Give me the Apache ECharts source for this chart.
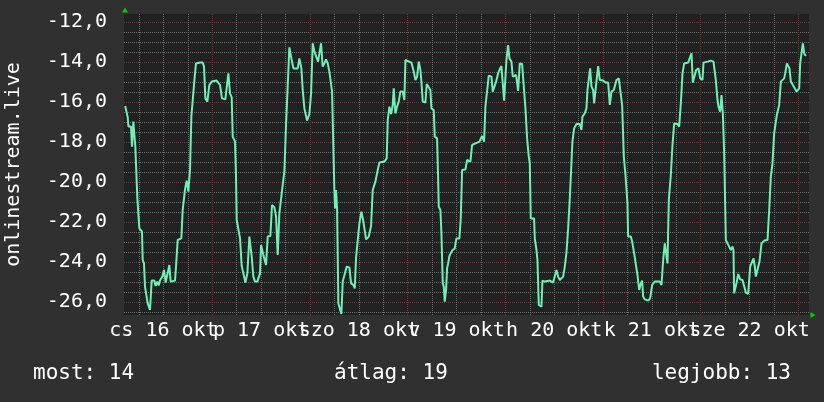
<!DOCTYPE html>
<html><head><meta charset="utf-8">
<script src="https://cdn.jsdelivr.net/npm/echarts@6/dist/echarts.min.js"></script>
<style>html,body{margin:0;padding:0;background:#303030;}#c{width:824px;height:402px;}</style>
</head><body><div id="c"></div>
<script>
// hours since 16 Oct 00:00
const hours = [2.6,2.95,3.2,3.4,4.02,4.27,4.43,4.59,4.92,5.08,5.41,5.58,5.82,6.07,6.72,6.89,7.21,7.46,7.71,8.12,8.69,8.85,9.10,9.75,10.08,10.49,10.82,11.15,11.72,12.13,12.54,12.95,13.44,13.77,14.26,14.83,15.08,15.49,15.90,16.39,16.72,17.29,17.70,18.11,18.52,18.85,19.34,19.67,19.99,20.98,21.63,21.96,22.29,22.78,23.27,23.84,25.07,25.89,26.38,27.20,27.53,27.94,28.35,28.76,29.01,29.58,29.82,29.99,30.40,30.81,31.22,31.63,32.12,32.61,33.10,33.67,34.08,34.49,35.07,
35.56,35.72,35.97,36.54,37.20,37.61,38.26,38.67,39.25,39.66,40.07,40.47,40.88,41.29,41.70,42.11,42.52,42.93,43.34,43.92,44.98,45.39,45.88,46.21,46.62,47.03,47.27,47.85,48.26,48.67,49.08,49.49,49.98,50.31,50.71,51.12,51.53,51.94,52.35,52.76,53.42,53.75,53.99,54.16,54.40,54.65,54.97,55.38,55.71,56.04,56.53,57.02,57.68,58.09,58.66,58.99,59.32,59.73,60.14,60.63,61.12,61.77,62.43,63.00,63.41,64.07,64.64,65.05,66.28,66.85,67.10,67.51,67.92,68.33,
68.57,68.98,69.39,69.80,70.21,70.78,71.19,71.44,71.85,72.91,73.49,73.90,74.31,74.72,75.13,75.37,75.70,76.36,76.68,77.17,77.58,77.83,78.40,78.65,79.22,79.47,79.63,80.04,80.29,80.62,80.86,81.11,81.43,81.68,81.93,82.25,82.91,83.56,83.97,84.71,85.04,85.37,86.19,86.60,87.41,87.82,88.64,89.63,90.28,90.77,91.10,91.51,91.92,92.58,92.90,93.39,93.72,94.21,94.54,95.03,95.44,95.69,96.02,96.26,96.67,97.00,97.49,97.82,98.31,98.64,99.13,99.54,100.11,100.60,100.93,101.34,101.75,
102.00,102.24,103.06,103.23,103.64,103.88,104.21,104.86,105.11,105.68,106.09,106.91,107.73,108.14,108.55,108.96,109.37,110.19,110.60,111.01,111.42,111.83,112.24,112.48,112.89,113.47,114.29,114.69,114.94,115.51,115.92,116.17,116.50,116.82,117.15,117.56,117.81,118.14,118.38,118.79,119.20,119.61,120.02,120.59,121.25,121.66,122.07,122.64,123.30,123.87,124.36,124.69,125.10,125.51,126.00,126.16,126.82,127.15,127.64,128.05,128.46,128.87,129.28,129.60,129.85,130.26,131.08,131.57,132.06,132.72,133.95,134.36,134.77,135.17,
135.42,135.83,136.16,136.65,137.06,137.47,138.29,138.70,139.11,139.52,139.93,140.91,141.40,141.73,142.06,142.55,142.87,143.45,143.86,144.43,144.68,145.66,146.48,147.13,147.71,148.12,148.36,148.77,149.10,149.43,149.76,150.00,150.17,150.58,150.98,151.39,151.80,152.05,152.21,152.54,152.87,153.20,153.69,154.26,154.67,155.08,155.65,156.15,156.64,156.97,157.29,157.54,157.95,158.44,158.93,159.59,160.41,160.82,161.22,161.63,162.04,162.70,163.27,163.68,164.09,164.50,164.75,165.16,165.48,165.81,166.14,166.63,167.12,167.53,167.78,168.19,168.43,168.76,169.09,169.42,169.83];
const temps = [-16.2,-16.3,-16.75,-17.23,-17.23,-18.23,-18.23,-16.98,-16.98,-18.23,-18.23,-20.82,-20.82,-22.32,-22.48,-23.90,-24.07,-25.23,-25.23,-26.07,-26.40,-26.45,-24.93,-24.93,-25.20,-24.98,-25.17,-24.93,-24.73,-24.40,-25.03,-24.93,-24.15,-24.98,-24.93,-24.93,-24.23,-22.90,-22.82,-22.82,-21.40,-20.37,-19.93,-20.48,-19.37,-16.73,-16.73,-14.73,-14.07,-14.03,-14.03,-14.23,-15.82,-15.98,-15.15,-14.98,-14.93,-15.15,-15.82,-15.87,-15.90,-14.57,-15.57,-15.77,-17.73,-17.98,-19.73,-21.90,-21.98,-22.82,-24.20,-24.57,-25.03,-24.57,-22.73,-23.70,-24.73,-24.98,-24.98,
-24.98,-24.57,-23.15,-23.65,-24.15,-22.73,-22.70,-21.15,-21.27,-21.73,-23.65,-21.57,-21.48,-20.15,-19.48,-17.15,-15.20,-13.27,-13.73,-14.32,-14.32,-13.82,-14.32,-15.40,-16.32,-16.40,-16.93,-16.60,-15.57,-13.07,-13.48,-13.53,-13.98,-13.57,-13.07,-14.23,-14.07,-13.87,-14.07,-14.48,-15.48,-18.40,-20.40,-21.32,-20.40,-21.32,-26.07,-26.15,-26.60,-24.98,-24.98,-24.23,-24.27,-25.07,-25.15,-25.32,-23.77,-22.90,-22.07,-21.48,-21.98,-22.87,-22.73,-22.20,-20.40,-19.98,-19.40,-19.03,-18.98,-18.82,-16.90,-16.23,-16.60,-16.15,
-15.32,-16.57,-16.23,-15.98,-15.48,-15.48,-15.90,-13.90,-13.98,-14.03,-14.48,-14.90,-14.73,-13.98,-14.40,-14.98,-15.98,-16.03,-15.10,-15.15,-15.40,-16.32,-16.40,-17.73,-17.82,-19.73,-21.23,-21.40,-22.57,-25.07,-25.23,-25.98,-25.40,-24.32,-24.07,-23.70,-23.43,-23.32,-22.82,-22.82,-21.82,-19.40,-19.37,-18.90,-18.98,-18.15,-18.07,-17.98,-17.70,-17.98,-16.23,-16.20,-14.68,-14.73,-15.48,-15.40,-14.98,-14.57,-14.40,-14.20,-14.15,-15.93,-15.87,-13.90,-13.15,-13.82,-13.98,-14.73,-14.73,-14.65,-15.45,-14.07,-14.10,-14.15,-16.32,-17.82,-18.73,
-19.07,-21.82,-21.82,-22.82,-23.40,-23.90,-26.15,-26.23,-24.93,-24.98,-24.93,-24.93,-25.03,-24.93,-24.40,-24.73,-24.90,-24.73,-24.23,-23.53,-22.32,-20.82,-20.73,-17.98,-17.32,-17.10,-17.10,-17.40,-16.73,-16.57,-16.32,-15.40,-15.32,-14.32,-15.23,-15.40,-16.07,-15.98,-14.98,-14.20,-14.90,-14.98,-14.93,-15.03,-15.03,-16.15,-15.48,-15.40,-14.90,-14.82,-14.73,-16.15,-18.73,-19.65,-21.07,-22.73,-22.73,-22.98,-23.57,-23.65,-24.65,-25.40,-25.07,-24.93,-25.73,-25.87,-25.93,-25.82,-25.15,-24.98,-24.98,-25.15,-23.90,-23.07,
-23.07,-24.07,-20.90,-19.65,-18.15,-17.07,-17.10,-17.23,-16.07,-14.57,-14.07,-14.03,-14.02,-13.57,-15.03,-15.03,-14.40,-14.32,-14.82,-14.90,-14.03,-13.98,-13.93,-13.98,-14.90,-15.90,-16.23,-16.48,-15.65,-16.57,-18.57,-18.57,-22.90,-23.07,-23.15,-23.40,-23.23,-23.40,-25.57,-25.57,-24.98,-24.60,-24.87,-24.90,-24.93,-25.53,-25.60,-24.23,-24.15,-23.82,-24.23,-24.73,-24.65,-23.98,-23.07,-22.93,-22.90,-21.40,-19.73,-19.07,-17.57,-16.65,-16.15,-14.98,-14.90,-14.82,-14.57,-14.07,-14.03,-14.32,-14.98,-14.98,-15.32,-15.48,-15.57,-15.32,-14.07,-13.57,-13.07,-13.57,-13.70];

const majorX = [24,48,72,96,120,144,168];
const minorX = [6,12,18,30,36,42,54,60,66,78,84,90,102,108,114,126,132,138,150,156,162];
const labelX = [12,36,60,84,108,132,156];
const dayLabels = ['cs 16 okt','p 17 okt','szo 18 okt','v 19 okt','h 20 okt','k 21 okt','sze 22 okt'];
const majorY = [-26,-24,-22,-20,-18,-16,-14,-12];
const minorY = [-26.5,-25.5,-25,-24.5,-23.5,-23,-22.5,-21.5,-21,-20.5,-19.5,-19,-18.5,-17.5,-17,-16.5,-15.5,-15,-14.5,-13.5,-13,-12.5];
const xMin = 2.3, xMax = 170.6, yMin = -26.65, yMax = -11.6;
const footer = ['most: 14','átlag: 19','legjobb: 13'];
const yName = 'onlinestream.live';

const FONT = 'DejaVu Sans Mono';
const TXT = '#ffffff';
const MINOR = '#6c6c6c';
const MAJOR = '#743636';

const chart = echarts.init(document.getElementById('c'), null, {renderer:'canvas'});
const data = hours.map((h,i)=>[h, temps[i]]);

function gridAxisX(vals, color){
  return {type:'value', position:'bottom', offset:0, min:xMin, max:xMax, axisLine:{show:false},
    axisTick:{show:false, customValues:vals}, axisLabel:{show:false},
    splitLine:{show:true, lineStyle:{color:color, width:1, type:[1,1]}}};
}
function gridAxisY(vals, color){
  return {type:'value', position:'left', offset:0, min:yMin, max:yMax, axisLine:{show:false},
    axisTick:{show:false, customValues:vals}, axisLabel:{show:false},
    splitLine:{show:true, lineStyle:{color:color, width:1, type:[1,1]}}};
}
// two label axes (alternate days) so that overlapping labels are all kept
function labelAxisX(parity){
  const vals = labelX.filter((v,i)=>i%2===parity);
  return {type:'value', position:'bottom', offset:0, min:xMin, max:xMax, axisLine:{show:false},
    axisTick:{show:false}, splitLine:{show:false},
    axisLabel:{show:true, customValues:vals, margin:6, color:TXT, fontFamily:FONT, fontSize:20,
      showMinLabel:true, showMaxLabel:true, hideOverlap:false,
      formatter:v=>dayLabels[labelX.indexOf(v)]}};
}

const yLab = {type:'value', position:'left', offset:0, min:yMin, max:yMax, axisLine:{show:false},
  axisTick:{show:false}, splitLine:{show:false},
  name:yName, nameLocation:'middle', nameGap:100,
  nameTextStyle:{color:TXT, fontFamily:FONT, fontSize:20},
  axisLabel:{show:true, customValues:majorY, margin:17, color:TXT, fontFamily:FONT, fontSize:20,
    showMinLabel:true, showMaxLabel:true,
    formatter:v=>v.toFixed(1).replace('.', ',')}};

chart.setOption({
  animation:false,
  backgroundColor:'#303030',
  grid:{left:124, top:14, right:15, bottom:87, show:true, backgroundColor:'#212121', borderWidth:0,
    containLabel:false, outerBoundsMode:'none'},
  xAxis:[gridAxisX(minorX, MINOR), gridAxisX(majorX, MAJOR), labelAxisX(0), labelAxisX(1)],
  yAxis:[gridAxisY(minorY, MINOR), gridAxisY(majorY, MAJOR), yLab],
  series:[{
    type:'line', xAxisIndex:2, yAxisIndex:2, data:data, showSymbol:false, symbol:'none',
    lineStyle:{color:'#6cf2b6', width:2}, clip:true,
    markPoint:{
      silent:true, label:{show:false},
      data:[
        {coord:[xMin, yMax], symbol:'triangle', symbolSize:[6,5], symbolOffset:[1,-4], itemStyle:{color:'#00d000'}},
        {coord:[xMax, yMin], symbol:'triangle', symbolRotate:-90, symbolSize:[6,5], symbolOffset:[4,0], itemStyle:{color:'#00d000'}}
      ]
    }
  }],
  graphic:[
    {type:'text', left:33, top:363, style:{text:footer[0], fill:TXT, font:'21px "DejaVu Sans Mono"'}},
    {type:'text', left:334, top:363, style:{text:footer[1], fill:TXT, font:'21px "DejaVu Sans Mono"'}},
    {type:'text', right:33, top:363, style:{text:footer[2], fill:TXT, font:'21px "DejaVu Sans Mono"'}}
  ]
});
</script>
</body></html>
